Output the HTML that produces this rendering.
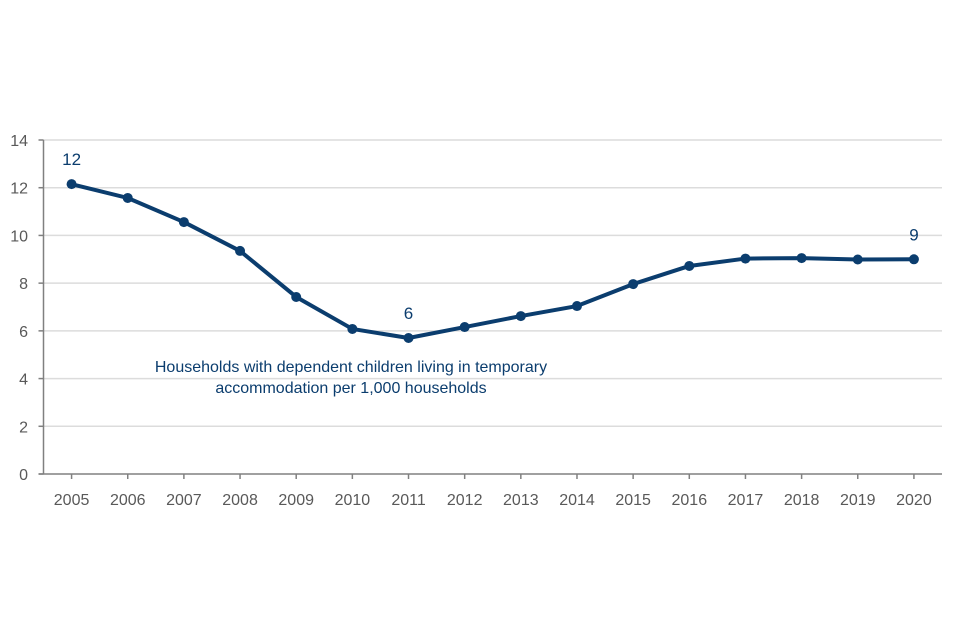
<!DOCTYPE html>
<html><head><meta charset="utf-8"><style>
body{margin:0;background:#fff;}
svg{display:block;font-family:"Liberation Sans",Arial,sans-serif;}
</style></head><body>
<svg id="chart" width="960" height="640"></svg>
<script>
const years=["2005","2006","2007","2008","2009","2010","2011","2012","2013","2014","2015","2016","2017","2018","2019","2020"];
const values=[12.15,11.57,10.56,9.35,7.42,6.08,5.7,6.16,6.62,7.04,7.96,8.72,9.03,9.05,8.99,9.0];
const yTicks=[0,2,4,6,8,10,12,14];
const labelled=[{i:0,t:"12"},{i:6,t:"6"},{i:15,t:"9"}];
const NS="http://www.w3.org/2000/svg";
const svg=document.getElementById('chart');
const plotLeft=43.5,plotRight=942,plotTop=140,plotBottom=474;
const step=(plotRight-plotLeft)/years.length;
const xs=i=>plotLeft+step*(i+0.5);
const ys=v=>plotBottom-(v/14)*(plotBottom-plotTop);
function mk(tag,attrs,parent){const e=document.createElementNS(NS,tag);for(const k in attrs)e.setAttribute(k,attrs[k]);(parent||svg).appendChild(e);return e;}
yTicks.forEach(t=>{
 if(t>0){const g=mk('line',{x1:plotLeft,x2:plotRight,y1:ys(t),y2:ys(t),stroke:'#dcdcdc','stroke-width':1.5});
 
 }
 const tk=mk('line',{x1:plotLeft-5,x2:plotLeft,y1:ys(t),y2:ys(t),stroke:'#808080','stroke-width':1.5});
 
 
 const l=mk('text',{x:28,y:ys(t)+6,'text-anchor':'end','font-size':16,fill:'#595959'});l.textContent=t;
 
 
});
const ya=mk('line',{x1:plotLeft,x2:plotLeft,y1:plotTop,y2:plotBottom,stroke:'#808080','stroke-width':1.5});


const xa=mk('line',{x1:plotLeft-5,x2:plotRight,y1:plotBottom,y2:plotBottom,stroke:'#808080','stroke-width':1.5});


years.forEach((yr,i)=>{
 const tk=mk('line',{x1:xs(i),x2:xs(i),y1:plotBottom,y2:plotBottom+5,stroke:'#808080','stroke-width':1.5});
 
 
 const l=mk('text',{x:xs(i),y:505,'text-anchor':'middle','font-size':16,fill:'#595959'});l.textContent=yr;
 
 
});
const p=mk('polyline',{points:values.map((v,i)=>xs(i)+','+ys(v)).join(' '),fill:'none',stroke:'#0b3d6e','stroke-width':4,'stroke-linejoin':'round'});


values.forEach((v,i)=>{
 const c=mk('circle',{cx:xs(i),cy:ys(v),r:5,fill:'#0b3d6e'});
 
 
});
labelled.forEach(o=>{
 const l=mk('text',{x:xs(o.i),y:ys(values[o.i])-19,'text-anchor':'middle','font-size':17,fill:'#0b3d6e'});l.textContent=o.t;
 
 
});
const a=mk('text',{x:351,y:372,'text-anchor':'middle','font-size':16,fill:'#0b3d6e'});


const t1=mk('tspan',{x:351,dy:0},a);t1.textContent="Households with dependent children living in temporary";
const t2=mk('tspan',{x:351,dy:21},a);t2.textContent="accommodation per 1,000 households";
</script>
</body></html>
